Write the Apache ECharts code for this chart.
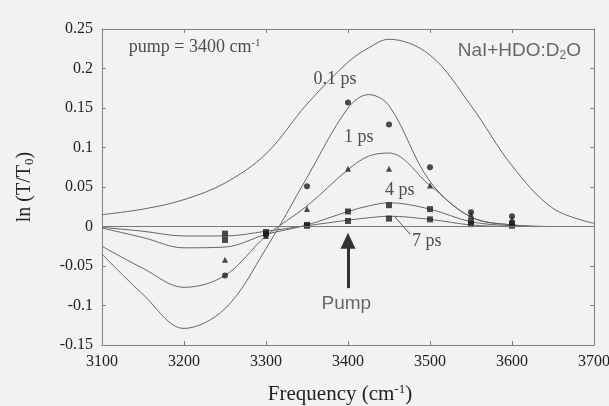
<!DOCTYPE html>
<html>
<head>
<meta charset="utf-8">
<script src="https://cdn.jsdelivr.net/npm/echarts@6.0.0/dist/echarts.min.js"></script>
<style>
  html, body { margin: 0; padding: 0; background: #f2f2f0; }
  #chart { width: 609px; height: 406px; }
</style>
</head>
<body>
<div id="chart"></div>
<script>
// frequency grid (cm-1) used by the fitted curves
const freq = [3100, 3150, 3200, 3250, 3300, 3350, 3400, 3425, 3450, 3500, 3550, 3600, 3650, 3700];

// linear absorption spectrum (top curve, no label)
const linear = [0.015, 0.022, 0.034, 0.055, 0.092, 0.155, 0.208, 0.226, 0.237, 0.217, 0.153, 0.077, 0.023, 0.004];
// pump-probe fits
const fit01ps = [-0.035, -0.086, -0.129, -0.104, -0.028, 0.062, 0.150, 0.167, 0.153, 0.057, 0.012, 0.002, 0.0, 0.0];
const fit1ps  = [-0.025, -0.053, -0.077, -0.062, -0.012, 0.026, 0.072, 0.089, 0.093, 0.052, 0.012, 0.002, 0.0, 0.0];
const fit4ps  = [-0.002, -0.014, -0.027, -0.026, -0.010, 0.002, 0.019, 0.026, 0.030, 0.022, 0.006, 0.001, 0.0, 0.0];
const fit7ps  = [-0.001, -0.006, -0.012, -0.012, -0.006, 0.001, 0.008, 0.011, 0.013, 0.009, 0.002, 0.0, 0.0, 0.0];

// measured points
const probe = [3250, 3300, 3350, 3400, 3450, 3500, 3550, 3600];
const pts01ps = [-0.062, -0.010, 0.051, 0.157, 0.129, 0.075, 0.018, 0.013];
const pts1ps  = [-0.042, -0.012, 0.022, 0.073, 0.073, 0.052, 0.015, 0.009];
const pts4ps  = [-0.017, -0.009, 0.002, 0.019, 0.027, 0.022, 0.007, 0.004];
const pts7ps  = [-0.009, -0.007, 0.001, 0.007, 0.010, 0.009, 0.003, 0.001];

// text annotations (data coordinates)
const noteSerif = ['pump = 3400 cm{sup|-1}', '0.1 ps', '1 ps', '4 ps', '7 ps'];
const noteSerifX = [3213, 3384, 3413, 3463, 3496];
const noteSerifY = [0.227, 0.186, 0.113, 0.046, -0.019];
const noteSans = ['NaI+HDO:D{sub|2}O', 'Pump'];
const noteSansX = [3609, 3398];
const noteSansY = [0.223, -0.098];

// pump arrow and 7 ps leader
const arrowX = 3400, arrowFrom = -0.078, arrowTo = -0.018;
const leader = [[3457, 0.0125], [3476, -0.010]];

const SERIF = "'Liberation Serif', 'DejaVu Serif', serif";
const SANS = "'Liberation Sans', Arial, sans-serif";
const zip = (xs, ys) => xs.map((x, i) => [x, ys[i]]);

const richSerif = {
  sup: { fontFamily: SERIF, fontSize: 11, verticalAlign: 'top', lineHeight: 20, color: '#222' },
  sub: { fontFamily: SERIF, fontSize: 11, verticalAlign: 'bottom', lineHeight: 20, color: '#222' }
};
const richSans = {
  sup: { fontFamily: SANS, fontSize: 12, verticalAlign: 'top', lineHeight: 22, color: '#444' },
  sub: { fontFamily: SANS, fontSize: 12, verticalAlign: 'bottom', lineHeight: 22, color: '#444' }
};

const chart = echarts.init(document.getElementById('chart'), null, { renderer: 'canvas' });

const curveStyle = { width: 1, color: '#666' };
const lineSeries = (name, ys) => ({
  name, type: 'line', data: zip(freq, ys), smooth: 0.35, symbol: 'none',
  lineStyle: curveStyle, silent: true, z: 2
});
const pointSeries = (name, ys, symbol, size) => ({
  name, type: 'scatter', data: zip(probe, ys), symbol, symbolSize: size,
  itemStyle: { color: '#1e1e1e' }, z: 4
});

const axisCommon = {
  type: 'value',
  axisLine: { show: true, onZero: false, lineStyle: { color: '#808080', width: 1 } },
  axisTick: { show: true, inside: true, length: 4, lineStyle: { color: '#808080' } },
  splitLine: { show: false }
};

chart.setOption({
  backgroundColor: '#f2f2f0',
  animation: false,
  grid: { left: 102, right: 15, top: 29, bottom: 61, outerBoundsMode: 'none', containLabel: false },
  xAxis: [
    Object.assign({}, axisCommon, {
      position: 'bottom', min: 3100, max: 3700, interval: 100,
      axisLabel: { fontFamily: SERIF, fontSize: 16, color: '#222', margin: 9, formatter: v => String(v) },
      name: 'Frequency (cm{sup|-1})', nameLocation: 'middle', nameGap: 38,
      nameTextStyle: { fontFamily: SERIF, fontSize: 21, color: '#222', lineHeight: 22, padding: [0, 16, 0, 0],
        rich: { sup: { fontFamily: SERIF, fontSize: 13, verticalAlign: 'top', lineHeight: 22, color: '#222' } } }
    }),
    Object.assign({}, axisCommon, {
      position: 'top', min: 3100, max: 3700, interval: 100, axisLabel: { show: false }
    })
  ],
  yAxis: [
    Object.assign({}, axisCommon, {
      position: 'left', min: -0.15, max: 0.25, interval: 0.05,
      axisLabel: { fontFamily: SERIF, fontSize: 16, color: '#222', margin: 9 },
      name: 'ln (T/T{sub|0})', nameLocation: 'middle', nameGap: 66,
      nameTextStyle: { fontFamily: SERIF, fontSize: 20, color: '#222', lineHeight: 22,
        rich: { sub: { fontFamily: SERIF, fontSize: 13, verticalAlign: 'bottom', lineHeight: 22, color: '#222' } } }
    }),
    Object.assign({}, axisCommon, {
      position: 'right', min: -0.15, max: 0.25, interval: 0.05, axisLabel: { show: false }
    })
  ],
  series: [
    Object.assign(lineSeries('linear', linear), {
      markLine: {
        silent: true, symbol: 'none', label: { show: false },
        lineStyle: { color: '#7a7a7a', width: 1, type: 'solid' },
        data: [{ yAxis: 0 }]
      }
    }),
    lineSeries('0.1 ps', fit01ps),
    lineSeries('1 ps', fit1ps),
    lineSeries('4 ps', fit4ps),
    Object.assign(lineSeries('7 ps', fit7ps), {
      markLine: {
        silent: true, symbol: 'none', label: { show: false },
        lineStyle: { color: '#555', width: 1, type: 'solid' },
        data: [[{ coord: leader[0] }, { coord: leader[1] }]]
      }
    }),
    pointSeries('0.1 ps data', pts01ps, 'circle', 6),
    pointSeries('1 ps data', pts1ps, 'triangle', 6),
    pointSeries('4 ps data', pts4ps, 'rect', 6),
    pointSeries('7 ps data', pts7ps, 'rect', 6),
    {
      name: 'notes-serif', type: 'scatter', symbolSize: 0, silent: true, z: 5,
      data: noteSerif.map((t, i) => ({ value: [noteSerifX[i], noteSerifY[i]], text: t })),
      label: {
        show: true, position: 'inside', formatter: p => p.data.text,
        fontFamily: SERIF, fontSize: 18, color: '#222', lineHeight: 20, rich: richSerif
      },
      markLine: {
        silent: true, symbol: ['none', 'triangle'], symbolSize: [15, 16], label: { show: false },
        lineStyle: { color: '#333', width: 3, type: 'solid' },
        data: [[{ coord: [arrowX, arrowFrom] }, { coord: [arrowX, arrowTo] }]]
      }
    },
    {
      name: 'notes-sans', type: 'scatter', symbolSize: 0, silent: true, z: 5,
      data: noteSans.map((t, i) => ({ value: [noteSansX[i], noteSansY[i]], text: t })),
      label: {
        show: true, position: 'inside', formatter: p => p.data.text,
        fontFamily: SANS, fontSize: 19, color: '#444', lineHeight: 22, rich: richSans
      }
    }
  ]
});
</script>
</body>
</html>
